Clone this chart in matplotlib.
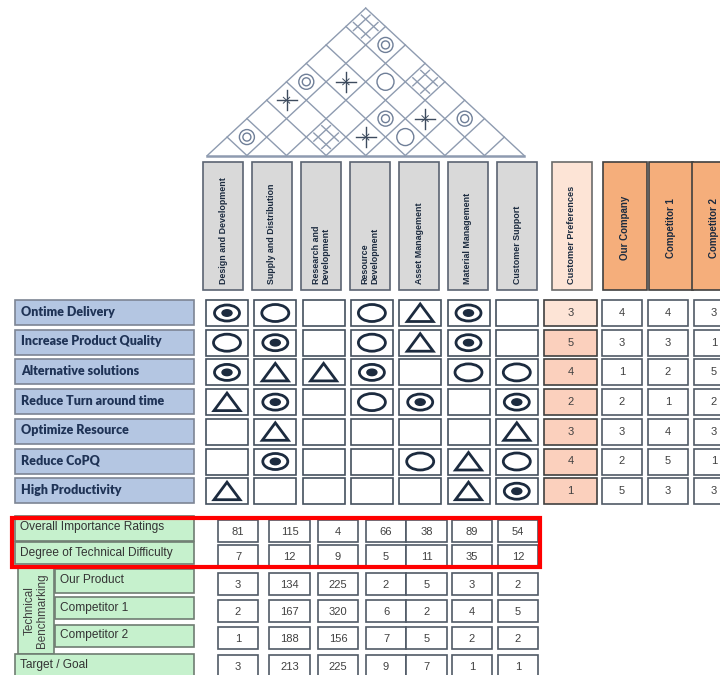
import matplotlib.pyplot as plt
import numpy as np
from matplotlib.patches import Rectangle, Ellipse, Polygon, Circle

# ---- data ----
eng_cols = ["Design and Development", "Supply and Distribution", "Research and\nDevelopment",
            "Resource\nDevelopment", "Asset Management", "Material Management", "Customer Support"]
needs = ["Ontime Delivery", "Increase Product Quality", "Alternative solutions",
         "Reduce Turn around time", "Optimize Resource", "Reduce CoPQ", "High Productivity"]
# S = strong (dot circle), M = medium (circle), W = weak (triangle)
relations = [
    ["S", "M", "", "M", "W", "S", ""],
    ["M", "S", "", "M", "W", "S", ""],
    ["S", "W", "W", "S", "", "M", "M"],
    ["W", "S", "", "M", "S", "", "S"],
    ["", "W", "", "", "", "", "W"],
    ["", "S", "", "", "M", "W", "M"],
    ["W", "", "", "", "", "W", "S"],
]
cust_pref = [3, 5, 4, 2, 3, 4, 1]
comp_names = ["Our Company", "Competitor 1", "Competitor 2"]
our_company = [4, 3, 1, 2, 3, 2, 5]
competitor1 = [4, 3, 2, 1, 4, 5, 3]
competitor2 = [3, 1, 5, 2, 3, 1, 3]

bottom_labels = ["Overall Importance Ratings", "Degree of Technical Difficulty",
                 "Our Product", "Competitor 1", "Competitor 2", "Target / Goal"]
importance = [81, 115, 4, 66, 38, 89, 54]
difficulty = [7, 12, 9, 5, 11, 35, 12]
our_product = [3, 134, 225, 2, 5, 3, 2]
bench_comp1 = [2, 167, 320, 6, 2, 4, 5]
bench_comp2 = [1, 188, 156, 7, 5, 2, 2]
target_goal = [3, 213, 225, 9, 7, 1, 1]

# roof correlations: lattice cells (u, v)
roof_double = [(1, 7), (0, 4), (3, 5), (5, 7), (0, 1)]
roof_circle = [(2, 6), (4, 5)]
roof_star = [(0, 3), (1, 5), (4, 6), (3, 4)]
roof_hash = [(0, 7), (3, 7), (2, 3)]

# ---- style ----
NAVY = "#1c2b3f"
ROOF = "#8e9bb0"
head_font = ["Liberation Sans Narrow", "Liberation Sans", "DejaVu Sans"]
num_font = ["Liberation Sans", "DejaVu Sans"]

fig = plt.figure(figsize=(7.2, 6.75), dpi=100)
ax = fig.add_axes([0, 0, 1, 1])
ax.set_xlim(0, 720)
ax.set_ylim(675, 0)
ax.axis("off")

# ---- roof ----
X0, Y0, SEG, SLOPE, N = 207.3, 155.5, 39.6, 0.9306, 8


def lat(u, v):
    return X0 + SEG * (u + v) / 2, Y0 - SLOPE * SEG * (v - u) / 2


for u in range(N):
    p, q = lat(u, u), lat(u, N)
    ax.plot([p[0], q[0]], [p[1], q[1]], color=ROOF, lw=1)
for v in range(1, N + 1):
    p, q = lat(0, v), lat(v, v)
    ax.plot([p[0], q[0]], [p[1], q[1]], color=ROOF, lw=1)
ax.plot([X0, X0 + N * SEG], [Y0, Y0], color=ROOF, lw=1.8)

for a, b in roof_double:
    cx, cy = lat(a + 0.5, b + 0.5)
    ax.add_patch(Circle((cx, cy), 7.5, fill=False, ec="#6f7f98", lw=1))
    ax.add_patch(Circle((cx, cy), 4, fill=False, ec="#6f7f98", lw=1))
for a, b in roof_circle:
    cx, cy = lat(a + 0.5, b + 0.5)
    ax.add_patch(Circle((cx, cy), 8.5, fill=False, ec="#6f7f98", lw=1))
for a, b in roof_star:
    cx, cy = lat(a + 0.5, b + 0.5)
    ax.plot([cx - 10, cx + 10], [cy, cy], color="#3d4b5e", lw=1)
    ax.plot([cx, cx], [cy - 10, cy + 10], color="#3d4b5e", lw=1)
    for du, dv in [(0.16, 0), (0, 0.16)]:
        p, q = lat(a + 0.5 - du, b + 0.5 - dv), lat(a + 0.5 + du, b + 0.5 + dv)
        ax.plot([p[0], q[0]], [p[1], q[1]], color="#3d4b5e", lw=0.7)
for a, b in roof_hash:
    cu, cv = a + 0.5, b + 0.5
    for off in (-0.2, 0.2):
        p, q = lat(cu + off, cv - 0.42), lat(cu + off, cv + 0.42)
        ax.plot([p[0], q[0]], [p[1], q[1]], color=ROOF, lw=1)
        p, q = lat(cu - 0.42, cv + off), lat(cu + 0.42, cv + off)
        ax.plot([p[0], q[0]], [p[1], q[1]], color=ROOF, lw=1)

# ---- engineering headers ----
HY0, HY1 = 162, 290
for i, name in enumerate(eng_cols):
    x = 203 + 49 * i
    ax.add_patch(Rectangle((x, HY0), 40, HY1 - HY0, fc="#d9d9d9", ec="#5b6472", lw=1.2))
    ax.text(x + 20, HY1 - 6, name, rotation=90, rotation_mode="anchor", ha="left", va="center",
            fontsize=6.4, fontweight="bold", color=NAVY, family=head_font, linespacing=1.05)

# customer preferences header
ax.add_patch(Rectangle((552, HY0), 40, HY1 - HY0, fc="#fde4d6", ec="#6b6b6b", lw=1.2))
ax.text(572, HY1 - 6, "Customer Preferences", rotation=90, rotation_mode="anchor", ha="left",
        va="center", fontsize=6.6, fontweight="bold", color=NAVY, family=head_font)

# competitor headers
comp_x = [603, 649, 692]
for x, name in zip(comp_x, comp_names):
    ax.add_patch(Rectangle((x, HY0), 44 if x != 692 else 50, HY1 - HY0, fc="#f5ae7b",
                           ec="#404040", lw=1.2))
    ax.text(x + 22, (HY0 + HY1) / 2 + 2, name, rotation=90, ha="center", va="center",
            fontsize=7, fontweight="bold", color=NAVY, family=head_font)

# ---- rows ----
RY0, RP, RH = 300, 29.7, 26
for r, need in enumerate(needs):
    y = RY0 + RP * r
    ax.add_patch(Rectangle((15, y), 179, RH - 1, fc="#b4c6e2", ec="#7d8594", lw=1.2))
    ax.text(21, y + RH / 2 - 1.5, need, ha="left", va="center", fontsize=9, fontweight="heavy",
            color="#1f3356", family=["Lato", "DejaVu Sans"])
    for c in range(7):
        x = 206 + 48.3 * c
        ax.add_patch(Rectangle((x, y), 42, RH, fc="white", ec="#44505e", lw=1.2))
        cx, cy = x + 21, y + RH / 2
        kind = relations[r][c]
        if kind == "S":
            ax.add_patch(Ellipse((cx, cy), 25, 16, fill=False, ec=NAVY, lw=2))
            ax.add_patch(Ellipse((cx, cy), 10, 6.5, fc=NAVY, ec=NAVY))
        elif kind == "M":
            ax.add_patch(Ellipse((cx, cy), 27, 17, fill=False, ec=NAVY, lw=2))
        elif kind == "W":
            ax.add_patch(Polygon([(cx - 13, cy + 8.5), (cx + 13, cy + 8.5), (cx, cy - 9)],
                                 closed=True, fill=False, ec=NAVY, lw=2, joinstyle="miter"))
    # customer preference value
    ax.add_patch(Rectangle((544, y), 53, RH, fc="#fde4d6" if r == 0 else "#fbd0bd",
                           ec="#404040", lw=1.2))
    ax.text(570.5, y + RH / 2, str(cust_pref[r]), ha="center", va="center", fontsize=8,
            color="#404040", family=num_font)
    for x, vals in zip([602, 648, 694], [our_company, competitor1, competitor2]):
        ax.add_patch(Rectangle((x, y), 40, RH, fc="white", ec="#505a66", lw=1.2))
        ax.text(x + 20, y + RH / 2, str(vals[r]), ha="center", va="center", fontsize=8,
                color="#404040", family=num_font)

# ---- bottom section ----
GREEN, GEDGE = "#c6f1cd", "#6f7d72"
bot_top = [520, 545, 573, 600, 627, 655]
bot_h = [22, 21, 22, 22, 22, 22]
bot_vals = [importance, difficulty, our_product, bench_comp1, bench_comp2, target_goal]
bot_cols = [218, 269, 318, 366, 406, 452, 498]
bot_w = [40, 41, 40, 40, 41, 40, 40]

# label boxes
ax.add_patch(Rectangle((15, 516), 179, 25, fc=GREEN, ec=GEDGE, lw=1.2))
ax.add_patch(Rectangle((15, 542), 179, 22, fc=GREEN, ec=GEDGE, lw=1.2))
ax.add_patch(Rectangle((18, 566), 36, 88, fc=GREEN, ec=GEDGE, lw=1.2))
ax.text(36, 611, "Technical\nBenchmarking", rotation=90, ha="center", va="center",
        fontsize=8.4, color="#404040", family=num_font, linespacing=1.1)
for y0, h in [(569, 24), (597, 22), (625, 22)]:
    ax.add_patch(Rectangle((55, y0), 139, h, fc=GREEN, ec=GEDGE, lw=1.2))
ax.add_patch(Rectangle((15, 654), 179, 25, fc=GREEN, ec=GEDGE, lw=1.2))
label_pos = [(20, 527), (20, 553), (60, 580), (60, 608), (60, 635), (20, 665)]
for (lx, ly), lab in zip(label_pos, bottom_labels):
    ax.text(lx, ly, lab, ha="left", va="center", fontsize=8.6, color="#333333",
            family=num_font)

for r, vals in enumerate(bot_vals):
    y = bot_top[r]
    for c in range(7):
        ax.add_patch(Rectangle((bot_cols[c], y), bot_w[c], bot_h[r], fc="white", ec="#505a66",
                               lw=1.2))
        ax.text(bot_cols[c] + bot_w[c] / 2, y + bot_h[r] / 2 + 1, str(vals[c]), ha="center",
                va="center", fontsize=8, color="#404040", family=num_font)

# red highlight
ax.add_patch(Rectangle((12, 517.5), 528, 49.5, fill=False, ec="#ff0000", lw=3))

fig.savefig("out.png", dpi=100)
